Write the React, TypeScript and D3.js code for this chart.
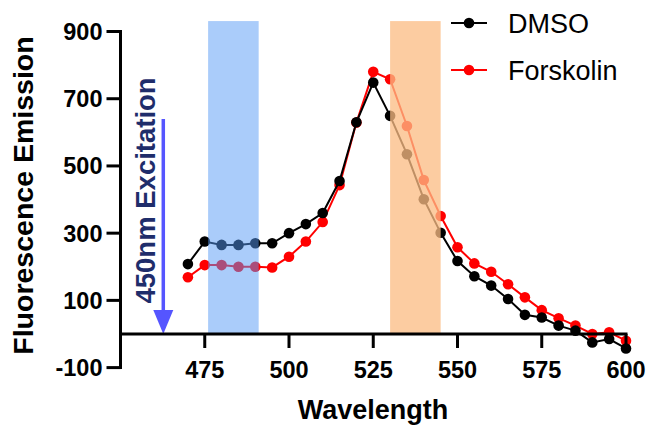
import React from "react";
import * as d3 from "d3";

const wavelengths = [470,475,480,485,490,495,500,505,510,515,520,525,530,535,540,545,550,555,560,565,570,575,580,585,590,595,600];
const dmso = [208,275,265,265,270,270,300,327,360,455,630,748,649,535,401,301,217,172,144,104,57,49,25,10,-25,-15,-43];
const forskolin = [169,205,205,200,200,198,230,275,333,443,629,780,758,619,458,351,258,210,185,148,109,71,47,25,0,5,-20];
const xTicks = [475,500,525,550,575,600];
const yTicks = [900,700,500,300,100,-100];
const seriesNames = ["DMSO","Forskolin"];
const seriesColors = ["#000000","#ff0000"];
const bands = [
  { from: 476, to: 491, fill: "rgb(85,153,245)", opacity: 0.5 },
  { from: 530, to: 545, fill: "rgb(251,188,132)", opacity: 0.76 },
];
const bandTop = 931;
const arrowX = 462.7;
const arrowTop = 640;
const annotation = "450nm Excitation";

const W = 649, H = 429;
const FONT = "'Liberation Sans', Arial, sans-serif";

export default function App() {
  const x = d3.scaleLinear().domain([450, 600]).range([120.5, 626]);
  const y = d3.scaleLinear().domain([-100, 900]).range([367.6, 31.5]);
  const line = d3.line<[number, number]>().x(d => x(d[0])).y(d => y(d[1]));
  const series = [forskolin, dmso];
  const colorsOrder = [seriesColors[1], seriesColors[0]];
  const y0 = y(0);

  return (
    <svg width={W} height={H} style={{ position: "absolute", left: 0, top: 0, background: "#fff" }} fontFamily={FONT}>
      {series.map((vals, si) => {
        const pts = wavelengths.map((w, i) => [w, vals[i]] as [number, number]);
        return (
          <g key={si}>
            <path d={line(pts) || ""} fill="none" stroke={colorsOrder[si]} strokeWidth={2} />
            {pts.map((p, i) => (
              <circle key={i} cx={x(p[0])} cy={y(p[1])} r={5.3} fill={colorsOrder[si]} />
            ))}
          </g>
        );
      })}
      {bands.map((b, i) => (
        <rect key={i} x={x(b.from)} y={y(bandTop)} width={x(b.to) - x(b.from)} height={y0 - y(bandTop)} fill={b.fill} fillOpacity={b.opacity} />
      ))}
      {/* arrow */}
      <line x1={x(arrowX)} x2={x(arrowX)} y1={y(arrowTop)} y2={y0 - 22} stroke="#5555ff" strokeWidth={3.5} />
      <path d={`M${x(arrowX) - 10},${y0 - 24} L${x(arrowX) + 10},${y0 - 24} L${x(arrowX)},${y0} Z`} fill="#5555ff" />
      <text transform={`translate(${x(arrowX) - 8},${(y(arrowTop) + y0) / 2 - 36}) rotate(-90)`} textAnchor="middle" fontSize={27.5} fontWeight="bold" fill="#1f2d6b">{annotation}</text>
      {/* axes */}
      <line x1={x(450)} x2={x(450)} y1={y(900) - 1.5} y2={y(-100) + 1.5} stroke="#000" strokeWidth={3} />
      {yTicks.map(t => (
        <g key={t}>
          <line x1={x(450) - 14} x2={x(450)} y1={y(t)} y2={y(t)} stroke="#000" strokeWidth={3} />
          <text x={x(450) - 18} y={y(t)} dy="0.36em" textAnchor="end" fontSize={23.5} fontWeight="bold">{t}</text>
        </g>
      ))}
      <line x1={x(450)} x2={x(600) + 1.5} y1={y0} y2={y0} stroke="#000" strokeWidth={3} />
      {xTicks.map(t => (
        <g key={t}>
          <line x1={x(t)} x2={x(t)} y1={y0} y2={y0 + 14} stroke="#000" strokeWidth={3} />
          <text x={x(t)} y={y0 + 44} textAnchor="middle" fontSize={23.5} fontWeight="bold">{t}</text>
        </g>
      ))}
      <text x={373} y={419} textAnchor="middle" fontSize={27} fontWeight="bold">Wavelength</text>
      <text transform={`translate(33,${(y(900) + y(-100)) / 2 - 4}) rotate(-90)`} textAnchor="middle" fontSize={28.5} fontWeight="bold">Fluorescence Emission</text>
      {/* legend */}
      {seriesNames.map((n, i) => (
        <g key={n} transform={`translate(0,${23 + i * 47})`}>
          <line x1={451} x2={487} y1={0} y2={0} stroke={seriesColors[i]} strokeWidth={2} />
          <circle cx={469} cy={0} r={5.3} fill={seriesColors[i]} />
          <text x={508} y={0} dy="0.36em" fontSize={27}>{n}</text>
        </g>
      ))}
    </svg>
  );
}
